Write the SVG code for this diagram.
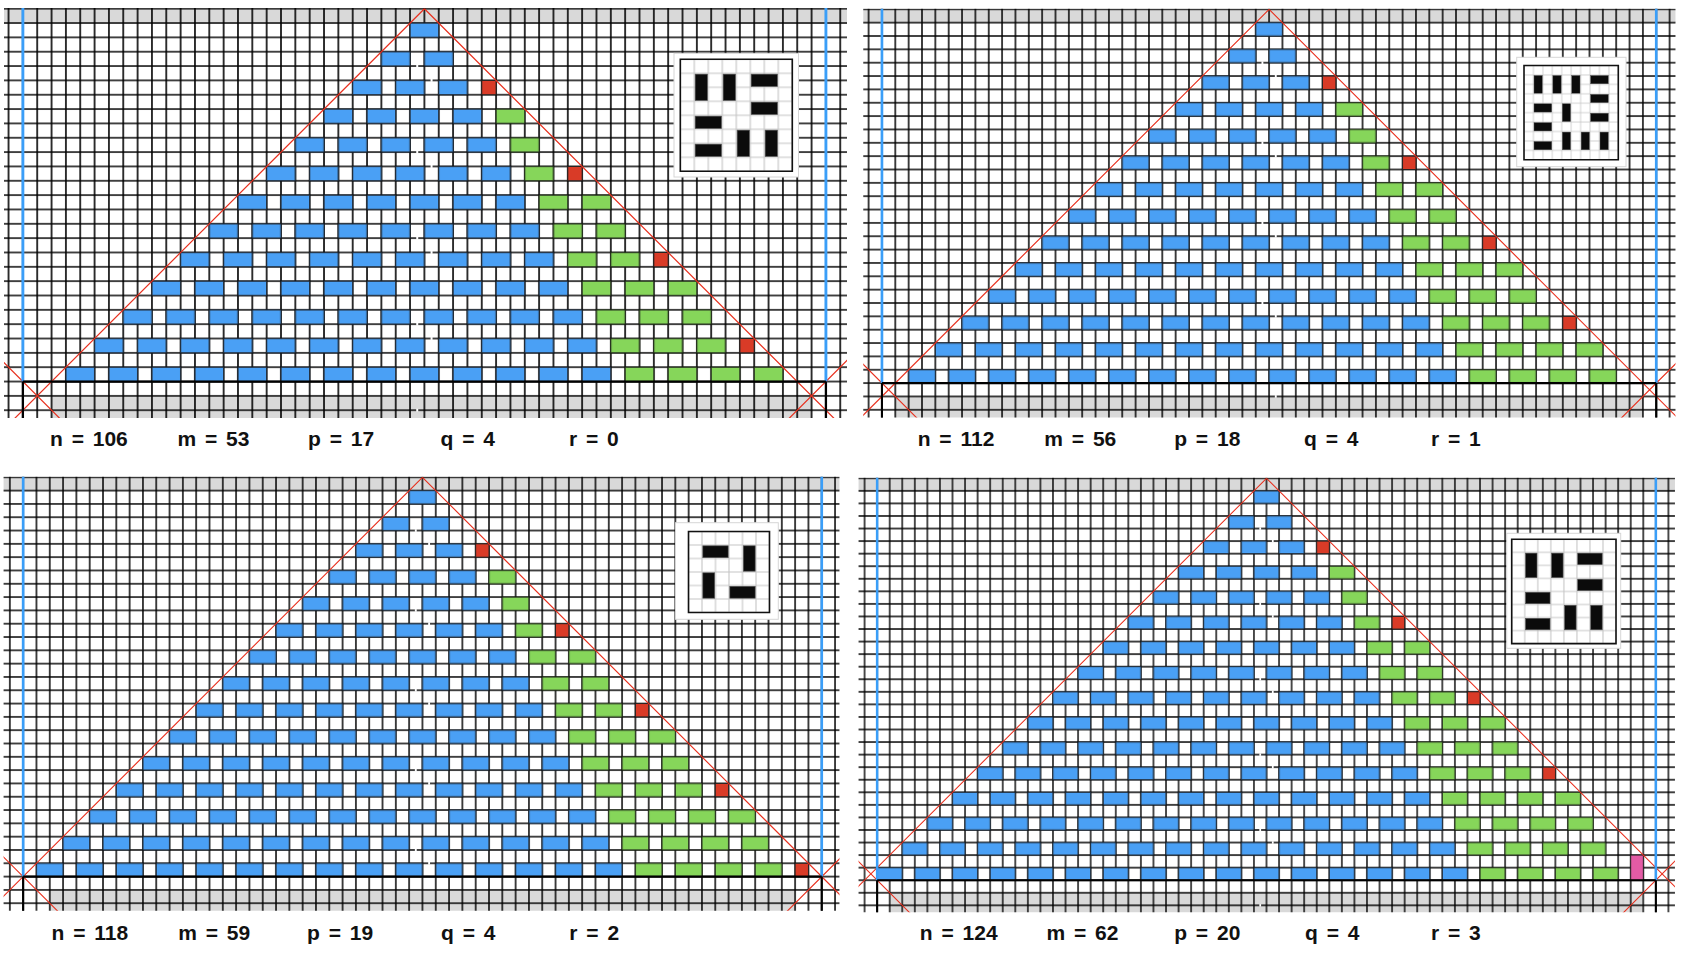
<svg xmlns="http://www.w3.org/2000/svg" xmlns:xlink="http://www.w3.org/1999/xlink" width="1683" height="959" viewBox="0 0 1683 959">
<style>
.lbl{font-family:"Liberation Sans",Arial,Helvetica,sans-serif;font-weight:bold;font-size:21px;word-spacing:3px;fill:#111}
.rl{fill:none;stroke:#e8301e;stroke-width:0.085}
.bl{fill:none;stroke:#3a9ef8;stroke-width:0.2}
.tk{fill:none;stroke:#000;stroke-width:0.16}
.gr{fill:#d9d9d9}
.red{fill:#d93b27;stroke:#222;stroke-width:0.07}
.pink{fill:#e35ba5;stroke:#222;stroke-width:0.07}
.bar{fill:#0b0b0b;stroke:#555;stroke-width:0.05}
.ib{fill:none;stroke:#111;stroke-width:1.6px;vector-effect:non-scaling-stroke}
.ob{fill:#fff;stroke:#d6d6d6;stroke-width:1}
</style>
<defs>
<pattern id="grid" patternUnits="userSpaceOnUse" width="1" height="1"><path d="M0 0V1M1 0V1M0 0H1M0 1H1" fill="none" stroke="#000" stroke-width="0.11"/></pattern>
<pattern id="ig" patternUnits="userSpaceOnUse" width="1" height="1"><path d="M0 0V1M1 0V1M0 0H1M0 1H1" fill="none" stroke="#c4c4c4" stroke-width="0.08"/></pattern>
<pattern id="bb" patternUnits="userSpaceOnUse" x="0" y="0.5" width="3" height="6">
<g fill="#4aa0f5" stroke="#1f2a36" stroke-width="0.08">
<rect x="-1" y="0.5" width="2" height="1"/><rect x="2" y="0.5" width="2" height="1"/>
<rect x="0" y="2.5" width="2" height="1"/><rect x="3" y="2.5" width="2" height="1"/>
<rect x="-2" y="4.5" width="2" height="1"/><rect x="1" y="4.5" width="2" height="1"/>
</g></pattern>
<pattern id="gb" patternUnits="userSpaceOnUse" x="0" y="0.5" width="3" height="6">
<g fill="#86d65a" stroke="#24301c" stroke-width="0.08">
<rect x="-1" y="0.5" width="2" height="1"/><rect x="2" y="0.5" width="2" height="1"/>
<rect x="0" y="2.5" width="2" height="1"/><rect x="3" y="2.5" width="2" height="1"/>
<rect x="-2" y="4.5" width="2" height="1"/><rect x="1" y="4.5" width="2" height="1"/>
</g></pattern>
<clipPath id="clip1"><rect x="-29.32" y="-0.05" width="58.79" height="28.59"/></clipPath>
<clipPath id="clip2"><rect x="-30.4" y="-0.05" width="60.84" height="30.63"/></clipPath>
<clipPath id="clip3"><rect x="-31.47" y="-0.05" width="62.8" height="32.61"/></clipPath>
<clipPath id="clip4"><rect x="-32.48" y="-0.05" width="65" height="34.6"/></clipPath>
<g id="rows13">
<g fill="url(#bb)">
<rect x="-1.08" y="0.92" width="2.16" height="1.16"/>
<rect x="-3.08" y="2.92" width="5.16" height="1.16"/>
<rect x="-5.08" y="4.92" width="8.16" height="1.16"/>
<rect x="-7.08" y="6.92" width="11.16" height="1.16"/>
<rect x="-9.08" y="8.92" width="14.16" height="1.16"/>
<rect x="-11.08" y="10.92" width="17.16" height="1.16"/>
<rect x="-13.08" y="12.92" width="20.16" height="1.16"/>
<rect x="-15.08" y="14.92" width="23.16" height="1.16"/>
<rect x="-17.08" y="16.92" width="26.16" height="1.16"/>
<rect x="-19.08" y="18.92" width="29.16" height="1.16"/>
<rect x="-21.08" y="20.92" width="32.16" height="1.16"/>
<rect x="-23.08" y="22.92" width="35.16" height="1.16"/>
<rect x="-25.08" y="24.92" width="38.16" height="1.16"/>
</g>
<g fill="url(#gb)">
<rect x="4.92" y="6.92" width="2.16" height="1.16"/>
<rect x="5.92" y="8.92" width="2.16" height="1.16"/>
<rect x="6.92" y="10.92" width="2.16" height="1.16"/>
<rect x="7.92" y="12.92" width="5.16" height="1.16"/>
<rect x="8.92" y="14.92" width="5.16" height="1.16"/>
<rect x="9.92" y="16.92" width="5.16" height="1.16"/>
<rect x="10.92" y="18.92" width="8.16" height="1.16"/>
<rect x="11.92" y="20.92" width="8.16" height="1.16"/>
<rect x="12.92" y="22.92" width="8.16" height="1.16"/>
<rect x="13.92" y="24.92" width="11.16" height="1.16"/>
</g>
<g class="red">
<rect x="4" y="5" width="1" height="1"/>
<rect x="10" y="11" width="1" height="1"/>
<rect x="16" y="17" width="1" height="1"/>
<rect x="22" y="23" width="1" height="1"/>
</g>
</g>
<g id="row13"><rect x="-27.08" y="26.92" width="41.16" height="1.16" fill="url(#bb)"/><rect x="14.92" y="26.92" width="11.16" height="1.16" fill="url(#gb)"/></g>
<g id="row14"><rect x="-29.08" y="28.92" width="44.16" height="1.16" fill="url(#bb)"/><rect x="15.92" y="28.92" width="11.16" height="1.16" fill="url(#gb)"/></g>
<g id="row15"><rect x="-31.08" y="30.92" width="47.16" height="1.16" fill="url(#bb)"/><rect x="16.92" y="30.92" width="11.16" height="1.16" fill="url(#gb)"/></g>
<g id="marks" fill="#fff">
<rect x="-0.57" y="3.9" width="0.14" height="0.2"/><rect x="0.43" y="4.9" width="0.14" height="0.2"/>
<rect x="-0.57" y="9.9" width="0.14" height="0.2"/><rect x="0.43" y="10.9" width="0.14" height="0.2"/>
<rect x="-0.57" y="15.9" width="0.14" height="0.2"/><rect x="0.43" y="16.9" width="0.14" height="0.2"/>
<rect x="-0.57" y="21.9" width="0.14" height="0.2"/><rect x="0.43" y="22.9" width="0.14" height="0.2"/>
<rect x="-0.57" y="27.9" width="0.14" height="0.2"/><rect x="0.43" y="28.9" width="0.14" height="0.2"/>
<rect x="-0.57" y="33.9" width="0.14" height="0.2"/>
</g>
<g id="bars8">
<rect class="bar" x="1.06" y="1.06" width="0.88" height="1.88"/>
<rect class="bar" x="3.06" y="1.06" width="0.88" height="1.88"/>
<rect class="bar" x="5.06" y="1.06" width="1.88" height="0.88"/>
<rect class="bar" x="5.06" y="3.06" width="1.88" height="0.88"/>
<rect class="bar" x="1.06" y="4.06" width="1.88" height="0.88"/>
<rect class="bar" x="4.06" y="5.06" width="0.88" height="1.88"/>
<rect class="bar" x="6.06" y="5.06" width="0.88" height="1.88"/>
<rect class="bar" x="1.06" y="6.06" width="1.88" height="0.88"/>
</g>
</defs>
<rect width="1683" height="959" fill="#fff"/>

<g id="panel-1">
<g transform="translate(424.4 8.7) scale(14.34)">
<g clip-path="url(#clip1)">
<rect class="gr" x="-34" y="0" width="68" height="1"/>
<rect class="gr" x="-26" y="27" width="53" height="3"/>
<rect x="-34" y="-1" width="68" height="37" fill="url(#grid)"/>
<use href="#rows13"/>
<use href="#marks"/>
<g id="connectors-1">
<path class="rl" d="M0 0L-40 40M0 0L40 40M17 37L37 17M-37 17L-17 37"/>
<path class="bl" d="M-28 -0.1V26M28 -0.1V26"/>
<path class="tk" d="M-28 26H28M-28 26V31M28 26V31"/>
</g>
</g>
</g>
<g id="inset-1">
<rect class="ob" x="674" y="53.3" width="124.5" height="123.7"/>
<g transform="translate(680.3 59.3) scale(14)">
<rect width="8" height="8" fill="url(#ig)"/>
<use href="#bars8"/>
<rect class="ib" width="8" height="8"/>
</g>
</g>
<g id="labels-1">
<text class="lbl" x="50" y="446">n = 106</text>
<text class="lbl" x="177.5" y="446">m = 53</text>
<text class="lbl" x="308" y="446">p = 17</text>
<text class="lbl" x="440.5" y="446">q = 4</text>
<text class="lbl" x="569" y="446">r = 0</text>
</g>
</g>

<g id="panel-2">
<g transform="translate(1269.1 9.3) scale(13.35)">
<g clip-path="url(#clip2)">
<rect class="gr" x="-34" y="0" width="68" height="1"/>
<rect class="gr" x="-28" y="29" width="56" height="3"/>
<rect x="-34" y="-1" width="68" height="37" fill="url(#grid)"/>
<use href="#rows13"/>
<use href="#row13"/>
<use href="#marks"/>
<g id="connectors-2">
<path class="rl" d="M0 0L-40 40M0 0L40 40M18.5 38.5L38.5 18.5M-38.5 18.5L-18.5 38.5"/>
<path class="bl" d="M-29 -0.1V28M29 -0.1V28"/>
<path class="tk" d="M-29 28H29M-29 28V33M29 28V33"/>
</g>
</g>
</g>
<g id="inset-2">
<rect class="ob" x="1516.7" y="57.3" width="109.3" height="109.4"/>
<g transform="translate(1524 65.5) scale(9.43)">
<rect width="10" height="10" fill="url(#ig)"/>
<rect class="bar" x="1.06" y="1.06" width="0.88" height="1.88"/>
<rect class="bar" x="3.06" y="1.06" width="0.88" height="1.88"/>
<rect class="bar" x="5.06" y="1.06" width="0.88" height="1.88"/>
<rect class="bar" x="7.06" y="1.06" width="1.88" height="0.88"/>
<rect class="bar" x="7.06" y="3.06" width="1.88" height="0.88"/>
<rect class="bar" x="1.06" y="4.06" width="1.88" height="0.88"/>
<rect class="bar" x="4.06" y="4.06" width="0.88" height="1.88"/>
<rect class="bar" x="7.06" y="5.06" width="1.88" height="0.88"/>
<rect class="bar" x="1.06" y="6.06" width="1.88" height="0.88"/>
<rect class="bar" x="4.06" y="7.06" width="0.88" height="1.88"/>
<rect class="bar" x="6.06" y="7.06" width="0.88" height="1.88"/>
<rect class="bar" x="8.06" y="7.06" width="0.88" height="1.88"/>
<rect class="bar" x="1.06" y="8.06" width="1.88" height="0.88"/>
<rect class="ib" width="10" height="10"/>
</g>
</g>
<g id="labels-2">
<text class="lbl" x="917.7" y="446">n = 112</text>
<text class="lbl" x="1044.3" y="446">m = 56</text>
<text class="lbl" x="1174.2" y="446">p = 18</text>
<text class="lbl" x="1304" y="446">q = 4</text>
<text class="lbl" x="1431" y="446">r = 1</text>
</g>
</g>

<g id="panel-3">
<g transform="translate(422.45 477.3) scale(13.31)">
<g clip-path="url(#clip3)">
<rect class="gr" x="-34" y="0" width="68" height="1"/>
<rect class="gr" x="-28" y="31" width="56" height="3"/>
<rect x="-34" y="-1" width="68" height="37" fill="url(#grid)"/>
<use href="#rows13"/>
<use href="#row13"/>
<use href="#row14"/>
<rect class="red" x="28" y="29" width="1" height="1"/>
<use href="#marks"/>
<g id="connectors-3">
<path class="rl" d="M0 0L-40 40M0 0L40 40M20 40L40 20M-40 20L-20 40"/>
<path class="bl" d="M-30 -0.1V30M30 -0.1V30"/>
<path class="tk" d="M-30 30H30M-30 30V35M30 30V35"/>
</g>
</g>
</g>
<g id="inset-3">
<rect class="ob" x="675.5" y="522.7" width="102.8" height="96.6"/>
<g transform="translate(688.5 531.5) scale(13.5)">
<rect width="6" height="6" fill="url(#ig)"/>
<rect class="bar" x="1.06" y="1.06" width="1.88" height="0.88"/>
<rect class="bar" x="4.06" y="1.06" width="0.88" height="1.88"/>
<rect class="bar" x="1.06" y="3.06" width="0.88" height="1.88"/>
<rect class="bar" x="3.06" y="4.06" width="1.88" height="0.88"/>
<rect class="ib" width="6" height="6"/>
</g>
</g>
<g id="labels-3">
<text class="lbl" x="51.5" y="940">n = 118</text>
<text class="lbl" x="178.2" y="940">m = 59</text>
<text class="lbl" x="307" y="940">p = 19</text>
<text class="lbl" x="441" y="940">q = 4</text>
<text class="lbl" x="569.3" y="940">r = 2</text>
</g>
</g>

<g id="panel-4">
<g transform="translate(1266.5 478.3) scale(12.56)">
<g clip-path="url(#clip4)">
<rect class="gr" x="-34" y="0" width="68" height="1"/>
<rect class="gr" x="-30" y="33" width="60" height="3"/>
<rect x="-34" y="-1" width="68" height="37" fill="url(#grid)"/>
<use href="#rows13"/>
<use href="#row13"/>
<use href="#row14"/>
<use href="#row15"/>
<rect class="pink" x="29" y="30" width="1" height="2"/>
<use href="#marks"/>
<g id="connectors-4">
<path class="rl" d="M0 0L-40 40M0 0L40 40M21.5 41.5L41.5 21.5M-41.5 21.5L-21.5 41.5"/>
<path class="bl" d="M-31 -0.1V32M31 -0.1V32"/>
<path class="tk" d="M-31 32H31M-31 32V37M31 32V37"/>
</g>
</g>
</g>
<g id="inset-4">
<rect class="ob" x="1506.7" y="533.3" width="114" height="115"/>
<g transform="translate(1511.7 539.3) scale(13.04)">
<rect width="8" height="8" fill="url(#ig)"/>
<use href="#bars8"/>
<rect class="ib" width="8" height="8"/>
</g>
</g>
<g id="labels-4">
<text class="lbl" x="919.8" y="940">n = 124</text>
<text class="lbl" x="1046.5" y="940">m = 62</text>
<text class="lbl" x="1174.2" y="940">p = 20</text>
<text class="lbl" x="1305" y="940">q = 4</text>
<text class="lbl" x="1431" y="940">r = 3</text>
</g>
</g>
</svg>
